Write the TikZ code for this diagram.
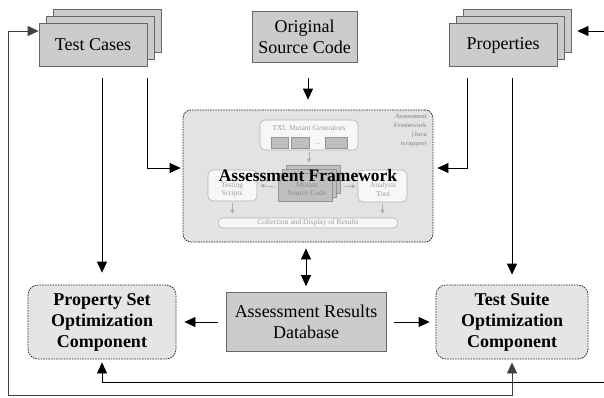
\documentclass[tikz,border=0pt]{standalone}
\usepackage{fontspec}
\setmainfont{Liberation Serif}
\usetikzlibrary{arrows.meta}
\begin{document}
\begin{tikzpicture}[x=1pt,y=-1pt,
  graybox/.style={draw=black!60, fill=black!20, line width=0.8pt, inner sep=0pt, align=center, font=\fontsize{18}{21}\selectfont},
  optbox/.style={draw=black!80, fill=black!10, dash pattern=on 1.6pt off 1pt, rounded corners=10pt, line width=0.8pt, inner sep=0pt, align=center, font=\fontsize{18}{21}\selectfont\bfseries, minimum height=74pt},
  fwbox/.style={draw=black!85, fill=black!11, dash pattern=on 1.6pt off 1pt, rounded corners=8pt, line width=0.8pt, inner sep=0pt},
  arr/.style={-{Triangle[length=11pt,width=10pt]}, line width=0.8pt},
  arrb/.style={{Triangle[length=11pt,width=10pt]}-{Triangle[length=11pt,width=10pt]}, line width=0.8pt},
  inbox/.style={draw=black!30, fill=black!3, rounded corners=5pt, line width=0.6pt, inner sep=0pt, align=center, text=black!38, font=\fontsize{7.5}{8.5}\selectfont},
  ingray/.style={draw=black!42, fill=black!25, line width=0.6pt, inner sep=0pt, align=center, text=black!40, font=\fontsize{7.5}{8.5}\selectfont},
  intext/.style={inner sep=0pt, text=black!38, font=\fontsize{7.5}{8.5}\selectfont, align=center},
  inarr/.style={-{Triangle[length=4pt,width=4pt]}, draw=black!32, line width=0.6pt}]
\useasboundingbox (0,0) rectangle (604,397);

% stacked input boxes
\node[graybox, minimum width=108pt, minimum height=43pt] (tc3) at (107,31) {};
\node[graybox, minimum width=108pt, minimum height=43pt] (tc2) at (100,38) {};
\node[graybox, minimum width=108pt, minimum height=43pt] (tc1) at (93,45) {Test Cases};
\node[graybox, minimum width=108pt, minimum height=43pt] (pr3) at (517,31) {};
\node[graybox, minimum width=108pt, minimum height=43pt] (pr2) at (510,38) {};
\node[graybox, minimum width=108pt, minimum height=43pt] (pr1) at (503,45) {Properties};
\node[graybox, minimum width=105pt, minimum height=51pt] (ors) at (304.5,36.5) {Original\\Source Code};

% framework
\node[fwbox, minimum width=250pt, minimum height=132pt] (fw) at (308,176) {};
\node[anchor=north east, align=right, inner sep=0pt, text=black!38, font=\fontsize{6.5}{9}\selectfont\bfseries] (fwlab) at (427,114) {Assessment\\Framework\\(Java\\wrapper)};
\node[inbox, minimum width=98pt, minimum height=30pt] (txl) at (309,135) {};
\node[intext] (txlt) at (309,128) {TXL Mutant Generators};
\node[ingray, minimum width=17pt, minimum height=11pt] (g1) at (279.5,142.5) {\fontsize{4}{4}\selectfont ---};
\node[ingray, minimum width=18pt, minimum height=11pt] (g2) at (300,142.5) {\fontsize{4}{4}\selectfont ---};
\node[intext] (gdots) at (318,144) {...};
\node[ingray, minimum width=22pt, minimum height=11pt] (g3) at (336,142.5) {\fontsize{4}{4}\selectfont ---};
\node[ingray, minimum width=54pt, minimum height=28pt] (m3) at (313,179) {};
\node[ingray, minimum width=54pt, minimum height=28pt] (m2) at (309,183) {};
\node[ingray, minimum width=54pt, minimum height=28pt] (m1) at (305,187) {};
\node[intext, text=black!45] (m1t) at (307,189) {Mutant\\Source Code};
\node[inbox, minimum width=49pt, minimum height=31pt] (tsr) at (232.5,185.5) {};
\node[intext] (tsrt) at (232,190) {Testing\\Scripts};
\node[inbox, minimum width=49pt, minimum height=32pt] (ant) at (382.5,186) {};
\node[intext] (antt) at (383,189.5) {Analysis\\Tool};
\node[inbox, rounded corners=5pt, minimum width=180pt, minimum height=10pt] (col) at (308,223) {Collection and Display of Results};
\coordinate (mtop) at (txl.south |- m3.north);
\draw[inarr] ([yshift=-2pt]txl.south) -- ([yshift=2pt]mtop);
\draw[inarr] ([xshift=-2pt]m1.west) -- ([xshift=3pt]tsr.east);
\draw[inarr] ([xshift=10pt]m1.east) -- ([xshift=-2pt]ant.west);
\coordinate (c1) at (tsr.south |- col.north);
\coordinate (c2) at (ant.south |- col.north);
\draw[inarr] ([yshift=-2pt]tsr.south) -- ([yshift=4pt]c1);
\draw[inarr] ([yshift=-2pt]ant.south) -- ([yshift=4pt]c2);
\node[anchor=base, inner sep=0pt, font=\fontsize{17.5}{20}\selectfont\bfseries] (fwt) at (308,181) {Assessment Framework};

% bottom row
\node[optbox, minimum width=148pt] (ps) at (102,322) {Property Set\\Optimization\\Component};
\node[graybox, minimum width=160pt, minimum height=59pt] (ard) at (306,322) {Assessment Results\\Database};
\node[optbox, minimum width=152pt] (tsc) at (512,322) {Test Suite\\Optimization\\Component};

% connectors
\draw[arr] ([xshift=9pt,yshift=-11pt]tc1.south) -- ([yshift=12pt]ps.north);
\draw[arr] ([yshift=-11pt]tc1.south east) |- ([xshift=-2pt,yshift=8pt]fw.west);
\draw[arr] ([xshift=-36pt,yshift=-11pt]pr1.south) |- ([xshift=4pt,yshift=8pt]fw.east);
\draw[arr] ([xshift=9pt,yshift=-11pt]pr1.south) -- ([yshift=10pt]tsc.north);
\coordinate (osrc) at (ors.south -| fw.north);
\draw[arr] ([yshift=-16pt]osrc) -- ([yshift=10pt]fw.north);
\coordinate (fwb) at (ard.north |- fw.south);
\draw[arrb] ([yshift=-6pt]fwb) -- ([yshift=6pt]ard.north);
\draw[arr] ([xshift=-8pt]ard.west) -- ([xshift=8pt]ps.east);
\draw[arr] ([xshift=8pt]ard.east) -- ([xshift=-6pt]tsc.west);

% feedback loops
\coordinate (rA) at (604,382);
\draw[arr] (rA) -| ([yshift=-3pt]ps.south);
\coordinate (rB) at (604,31);
\draw[arr] (rB) -- ([xshift=6pt]pr3.east);
\coordinate (lB) at (8,395);
\draw[arrb, draw=black!75] ([yshift=14pt]tc1.west) -| (lB) -| ([yshift=-3pt]tsc.south);
\end{tikzpicture}
\end{document}
